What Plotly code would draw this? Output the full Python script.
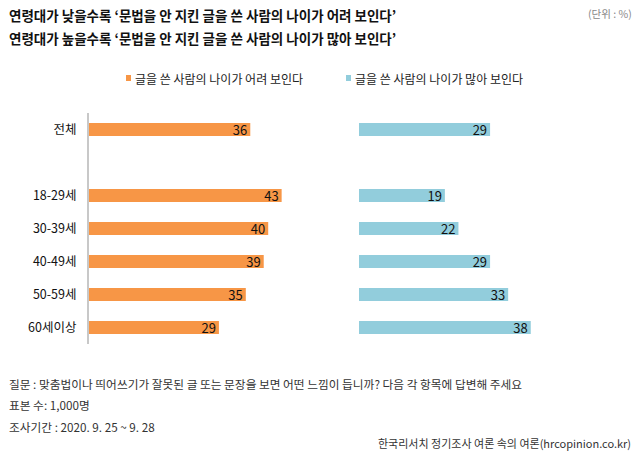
import plotly.graph_objects as go

categories = ["전체", "18-29세", "30-39세", "40-49세", "50-59세", "60세이상"]
row_pos = [0, 2, 3, 4, 5, 6]
young_vals = [36, 43, 40, 39, 35, 29]
old_vals = [29, 19, 22, 29, 33, 38]
series_names = ["글을 쓴 사람의 나이가 어려 보인다", "글을 쓴 사람의 나이가 많아 보인다"]
title_lines = [
    "연령대가 낮을수록 ‘문법을 안 지킨 글을 쓴 사람의 나이가 어려 보인다’",
    "연령대가 높을수록 ‘문법을 안 지킨 글을 쓴 사람의 나이가 많아 보인다’",
]
notes = [
    "질문 : 맞춤법이나 띄어쓰기가 잘못된 글 또는 문장을 보면 어떤 느낌이 듭니까? 다음 각 항목에 답변해 주세요",
    "표본 수: 1,000명",
    "조사기간 : 2020. 9. 25 ~ 9. 28",
]
source = "한국리서치 정기조사 여론 속의 여론(hrcopinion.co.kr)"
unit = "(단위 : %)"

ORANGE = "#F79646"
BLUE = "#92CDDC"
FONT = "Noto Sans CJK KR"
W, H = 640, 458

def px(x):
    return x / W

def py(y):
    return 1 - y / H

fig = go.Figure()
fig.add_trace(go.Bar(
    x=young_vals, y=row_pos, orientation="h", marker=dict(color=ORANGE, line=dict(width=0)),
    width=0.4, text=[str(v) for v in young_vals], textposition="inside", insidetextanchor="end",
    textangle=0, constraintext="none",
    textfont=dict(color="#111111", size=13, family=FONT), name=series_names[0],
    xaxis="x", yaxis="y", cliponaxis=False, hoverinfo="skip",
))
fig.add_trace(go.Bar(
    x=old_vals, y=row_pos, orientation="h", marker=dict(color=BLUE, line=dict(width=0)),
    width=0.4, text=[str(v) for v in old_vals], textposition="inside", insidetextanchor="end",
    textangle=0, constraintext="none",
    textfont=dict(color="#111111", size=13, family=FONT), name=series_names[1],
    xaxis="x2", yaxis="y2", cliponaxis=False, hoverinfo="skip",
))

ydom = [py(344), py(113)]
fig.update_layout(
    width=W, height=H,
    margin=dict(l=0, r=0, t=0, b=0),
    paper_bgcolor="white", plot_bgcolor="white",
    showlegend=False,
    font=dict(family=FONT, color="#222222"),
    uniformtext=dict(mode="show", minsize=12),
    xaxis=dict(domain=[px(89), px(89 + 4.48 * 50)], range=[0, 50], visible=False, fixedrange=True),
    xaxis2=dict(domain=[px(359), px(359 + 4.52 * 50)], range=[0, 50], visible=False, fixedrange=True),
    yaxis=dict(domain=ydom, range=[6.5, -0.5], tickvals=row_pos, ticktext=categories,
               showline=True, linecolor="#c8c8c8", linewidth=2, showgrid=False, zeroline=False,
               ticks="", ticklabelstandoff=8, tickfont=dict(size=12.5, color="#111111", family=FONT),
               anchor="x", fixedrange=True),
    yaxis2=dict(domain=ydom, range=[6.5, -0.5], visible=False, anchor="x2", fixedrange=True),
)

ann = []
for i, t in enumerate(title_lines):
    ann.append(dict(text="<b>" + t + "</b>", x=px(7), y=py(15 + i * 23), xref="paper", yref="paper",
                    xanchor="left", yanchor="middle", showarrow=False,
                    font=dict(size=13.5, color="#111111", family=FONT)))
ann.append(dict(text=unit, x=px(634), y=py(14), xref="paper", yref="paper", xanchor="right",
                yanchor="middle", showarrow=False, font=dict(size=10.5, color="#888888", family=FONT)))
legend_x = [133, 353]
for lx, name in zip(legend_x, series_names):
    ann.append(dict(text=name, x=px(lx), y=py(78), xref="paper", yref="paper", xanchor="left",
                    yanchor="middle", showarrow=False, font=dict(size=12, color="#222222", family=FONT)))
for i, n in enumerate(notes):
    ann.append(dict(text=n, x=px(7), y=py(383 + i * 21.5), xref="paper", yref="paper",
                    xanchor="left", yanchor="middle", showarrow=False,
                    font=dict(size=11.7, color="#333333", family=FONT)))
ann.append(dict(text=source, x=px(633), y=py(443), xref="paper", yref="paper", xanchor="right",
                yanchor="middle", showarrow=False, font=dict(size=11, color="#333333", family=FONT)))
fig.update_layout(annotations=ann)

shapes = []
for lx, col in zip(legend_x, [ORANGE, BLUE]):
    shapes.append(dict(type="rect", xref="paper", yref="paper", x0=px(lx - 7), x1=px(lx - 2),
                       y0=py(81), y1=py(75), fillcolor=col, line=dict(width=0)))
fig.update_layout(shapes=shapes)

fig.write_html("out.html", config={"displayModeBar": False},
               post_script="document.body.style.margin='0';")
